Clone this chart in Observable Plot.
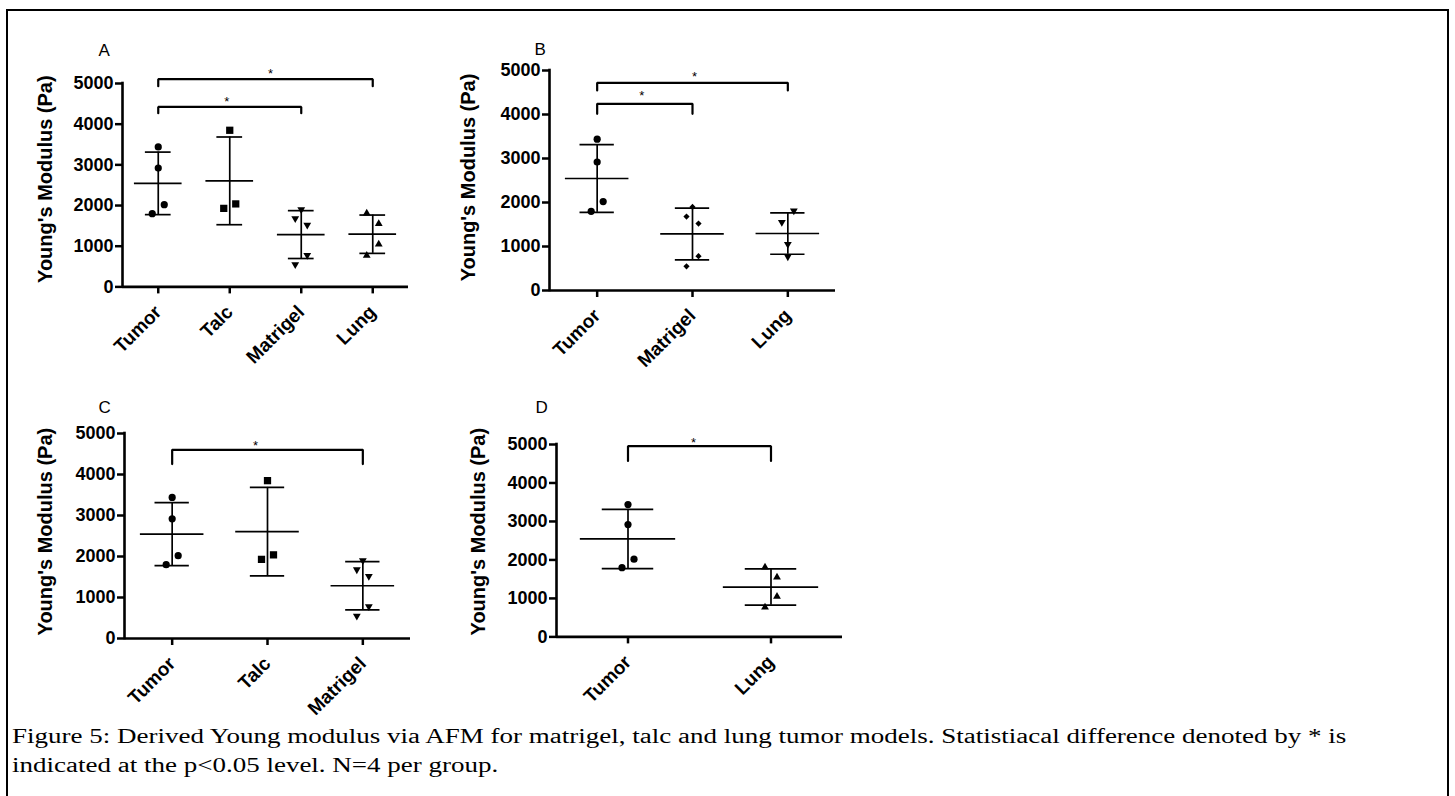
<!DOCTYPE html>
<html><head><meta charset="utf-8">
<script src="https://cdn.jsdelivr.net/npm/d3@7"></script>
<script src="https://cdn.jsdelivr.net/npm/@observablehq/plot@0.6"></script>
<style>
html,body{margin:0;padding:0;background:#fff;overflow:hidden;}
#fig{position:relative;width:1455px;height:796px;overflow:hidden;background:#fff;}
#box{position:absolute;left:6px;top:9px;width:1439px;height:830px;border:2px solid #000;}
.panel{position:absolute;}
#caption{position:absolute;left:12px;top:721.5px;font-family:"Liberation Serif","Times New Roman",serif;font-size:20px;line-height:29.5px;color:#000;white-space:nowrap;transform:scaleX(1.35);transform-origin:0 0;}
</style></head>
<body><div id="fig"><div id="box"></div>
<div id="caption">Figure 5: Derived Young modulus via AFM for matrigel, talc and lung tumor models. Statistiacal difference denoted by * is<br>indicated at the p&lt;0.05 level. N=4 per group.</div>
</div>
<script>
// ---- data (Young's modulus, Pa) ----
const tumor = [3440, 2920, 2020, 1800];
const talc = [3850, 1930, 2040];
const matrigel = [1900, 1680, 1520, 780, 550];
const lung = [1810, 1550, 1050, 770];
const values = {Tumor: tumor, Talc: talc, Matrigel: matrigel, Lung: lung};

const categoriesA = ["Tumor", "Talc", "Matrigel", "Lung"];
const categoriesB = ["Tumor", "Matrigel", "Lung"];
const categoriesC = ["Tumor", "Talc", "Matrigel"];
const categoriesD = ["Tumor", "Lung"];

const yTicks = [0, 1000, 2000, 3000, 4000, 5000];
const yLabel = "Young's Modulus (Pa)";
const panelLabels = ["A", "B", "C", "D"];

// significance brackets (Pa)
const bracketsA = [{from: "Tumor", to: "Lung", y: 5106, drop: 4934, star: 5300},
                   {from: "Tumor", to: "Matrigel", y: 4425, drop: 4270, star: 4614}];
const bracketsB = [{from: "Tumor", to: "Lung", y: 4720, drop: 4545, star: 4925},
                   {from: "Tumor", to: "Matrigel", y: 4243, drop: 4016, star: 4484}];
const bracketsC = [{from: "Tumor", to: "Matrigel", y: 4602, drop: 4254, star: 4780}];
const bracketsD = [{from: "Tumor", to: "Lung", y: 4956, drop: 4574, star: 5130}];

// ---- styles / layout ----
const triangleDown = {draw(context, size) {
  const y = -Math.sqrt(size / (Math.sqrt(3) * 3));
  context.moveTo(0, -2 * y);
  context.lineTo(-Math.sqrt(3) * y, y);
  context.lineTo(Math.sqrt(3) * y, y);
  context.closePath();
}};
const symbolR = {circle: 3.6, square: 4.1, triangle: 2.9, triangleDown: 2.9, diamond2: 2.8};
const symbolOf = name => name === "triangleDown" ? triangleDown : name;

const layouts = [
  {cats: categoriesA, brackets: bracketsA, left: 122, top: 83.3, plotH: 203.4, labelDx: -24, labelDy: -40, titleDx: -77, titleDy: -6, starDx: [5, -3],
   symbols: {Tumor: "circle", Talc: "square", Matrigel: "triangleDown", Lung: "triangle"},
   jitter: {Tumor: [0, 0, 1, -1], Talc: [0, -1, 1], Matrigel: [0, -1, 1, 1, -1], Lung: [-1, 1, 1, -1]}},
  {cats: categoriesB, brackets: bracketsB, left: 549.3, top: 70, plotH: 220, labelDx: -15, labelDy: -28, titleDx: -81, titleDy: -3, starDx: [2, -3],
   symbols: {Tumor: "circle", Matrigel: "diamond2", Lung: "triangleDown"},
   jitter: {Tumor: [0, 0, 1, -1], Matrigel: [0, -1, 1, 1, -1], Lung: [1, -1, 0, 0]}},
  {cats: categoriesC, brackets: bracketsC, left: 124.3, top: 432.7, plotH: 205, labelDx: -26, labelDy: -32.7, titleDx: -79, titleDy: -4.4, starDx: [-12],
   symbols: {Tumor: "circle", Talc: "square", Matrigel: "triangleDown"},
   jitter: {Tumor: [0, 0, 1, -1], Talc: [0, -1, 1], Matrigel: [0, -1, 1, 1, -1]}},
  {cats: categoriesD, brackets: bracketsD, left: 556, top: 444.3, plotH: 192.4, labelDx: -21, labelDy: -43.5, titleDx: -78, titleDy: -9, starDx: [-6],
   symbols: {Tumor: "circle", Lung: "triangle"},
   jitter: {Tumor: [0, 0, 1, -1], Lung: [-1, 1, 1, -1]}}
];

const M = {l: 110, r: 20, t: 70, b: 100};
const plotW = 286;
const sans = "'Liberation Sans', Arial, Helvetica, sans-serif";
const fig = document.getElementById("fig");

layouts.forEach((cfg, p) => {
  const cats = cfg.cats, n = cats.length;
  const idx = new Map(cats.map((c, i) => [c, i]));
  const stats = cats.map(c => ({cat: c, i: idx.get(c), mean: d3.mean(values[c]), sd: d3.deviation(values[c])}));
  const dotMarks = cats.flatMap(c => [-1, 0, 1].map(s => {
    const pts = values[c].map((v, k) => ({i: idx.get(c), v, side: cfg.jitter[c][k]})).filter(d => d.side === s);
    return Plot.dot(pts, {x: "i", y: "v", symbol: symbolOf(cfg.symbols[c]), r: symbolR[cfg.symbols[c]], fill: "black", stroke: "none", dx: s * 6});
  }));
  const bracketPts = cfg.brackets.flatMap((b, j) => [
    {j, x: idx.get(b.from), y: b.drop}, {j, x: idx.get(b.from), y: b.y},
    {j, x: idx.get(b.to), y: b.y}, {j, x: idx.get(b.to), y: b.drop}]);
  const starMarks = cfg.brackets.map((b, j) =>
    Plot.text([b], {x: d => (idx.get(d.from) + idx.get(d.to)) / 2, y: "star", text: () => "*", fontSize: 13, dx: cfg.starDx[j], dy: 3}));
  const svg = Plot.plot({
    width: M.l + plotW + M.r,
    height: M.t + cfg.plotH + M.b,
    marginLeft: M.l, marginRight: M.r, marginTop: M.t, marginBottom: M.b,
    x: {type: "linear", domain: [-0.5, n - 0.5]},
    y: {domain: [0, 5000]},
    style: {fontFamily: sans, background: "transparent", overflow: "visible", color: "black"},
    marks: [
      Plot.axisY({ticks: yTicks, tickFormat: d3.format("d"), tickSize: 7, tickPadding: 2, strokeWidth: 2.5,
                  fontSize: 18, fontWeight: "bold", label: null}),
      Plot.axisX({ticks: d3.range(n), tickFormat: i => cats[i], tickRotate: -45, tickSize: 7, tickPadding: 15,
                  strokeWidth: 2.5, fontSize: 19, fontWeight: "bold", label: null}),
      Plot.ruleY([0], {strokeWidth: 2.6}),
      Plot.ruleX([-0.5], {strokeWidth: 2.6, strokeLinecap: "square"}),
      Plot.ruleY(stats, {x1: d => d.i - 1 / 3, x2: d => d.i + 1 / 3, y: "mean", strokeWidth: 1.7}),
      Plot.ruleY(stats, {x1: d => d.i - 0.18, x2: d => d.i + 0.18, y: d => d.mean + d.sd, strokeWidth: 1.7}),
      Plot.ruleY(stats, {x1: d => d.i - 0.18, x2: d => d.i + 0.18, y: d => d.mean - d.sd, strokeWidth: 1.7}),
      Plot.ruleX(stats, {x: "i", y1: d => d.mean - d.sd, y2: d => d.mean + d.sd, strokeWidth: 1.7}),
      ...dotMarks,
      Plot.line(bracketPts, {x: "x", y: "y", z: "j", stroke: "black", strokeWidth: 2.2, strokeLinejoin: "miter"}),
      ...starMarks,
      Plot.text([panelLabels[p]], {frameAnchor: "top-left", text: d => d, textAnchor: "start", fontSize: 17,
                                   dx: cfg.labelDx, dy: cfg.labelDy}),
      Plot.text([yLabel], {frameAnchor: "left", text: d => d, rotate: -90, textAnchor: "middle", lineAnchor: "middle",
                           fontSize: 20, fontWeight: "bold", dx: cfg.titleDx, dy: cfg.titleDy})
    ]
  });
  svg.classList.add("panel");
  svg.style.left = (cfg.left - M.l) + "px";
  svg.style.top = (cfg.top - M.t) + "px";
  fig.appendChild(svg);
});
</script>
</body></html>
